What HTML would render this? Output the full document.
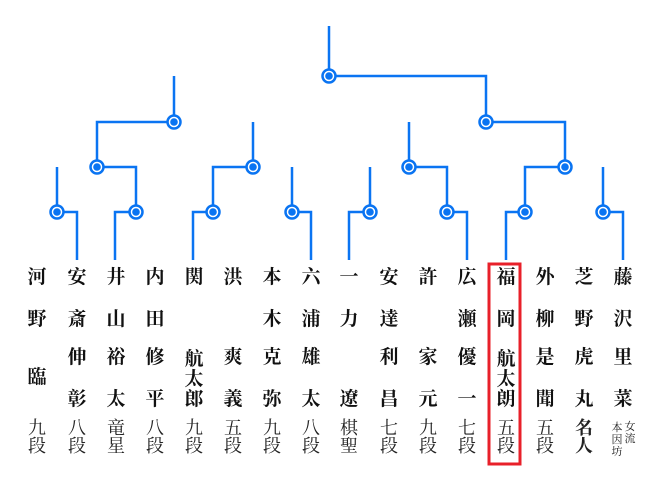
<!DOCTYPE html>
<html><head><meta charset="utf-8"><style>
html,body{margin:0;padding:0;background:#fff;}
#w{position:relative;width:660px;height:480px;overflow:hidden;font-family:"Liberation Serif","Noto Serif CJK SC",serif;}
.c{position:absolute;width:24px;margin-left:-12px;text-align:center;font-size:19px;line-height:22px;height:22px;margin-top:-11px;font-weight:bold;color:#111;}
.r{position:absolute;width:24px;margin-left:-12px;text-align:center;font-size:18px;line-height:20px;margin-top:-10px;color:#222;}
.s{position:absolute;font-size:11px;line-height:12px;width:12px;text-align:center;color:#222;}
svg{position:absolute;left:0;top:0;}
</style></head><body><div id="w">
<svg width="660" height="480">
<g fill="none" stroke="#0a74f2" stroke-width="2.5">
<path d="M329 26V76H486V122H565V167H525V212H506V260"/>
<path d="M174 76V122H97V167H136V212H115V260"/>
<path d="M57 167V212H77V260"/>
<path d="M253 122V167H213V212H193V260"/>
<path d="M292 167V212H311V260"/>
<path d="M370 167V212H349V260"/>
<path d="M409 122V167H447V212H467V260"/>
<path d="M603 167V212H623V260"/>
</g>
<g fill="#fff" stroke="#0a74f2" stroke-width="2.5">
<circle cx="329" cy="76" r="6.5"/><circle cx="174" cy="122" r="6.5"/><circle cx="486" cy="122" r="6.5"/>
<circle cx="97" cy="167" r="6.5"/><circle cx="253" cy="167" r="6.5"/><circle cx="409" cy="167" r="6.5"/><circle cx="565" cy="167" r="6.5"/>
<circle cx="57" cy="212" r="6.5"/><circle cx="136" cy="212" r="6.5"/><circle cx="213" cy="212" r="6.5"/><circle cx="292" cy="212" r="6.5"/>
<circle cx="370" cy="212" r="6.5"/><circle cx="447" cy="212" r="6.5"/><circle cx="525" cy="212" r="6.5"/><circle cx="603" cy="212" r="6.5"/>
</g>
<g fill="#0a74f2">
<circle cx="329" cy="76" r="3.8"/><circle cx="174" cy="122" r="3.8"/><circle cx="486" cy="122" r="3.8"/>
<circle cx="97" cy="167" r="3.8"/><circle cx="253" cy="167" r="3.8"/><circle cx="409" cy="167" r="3.8"/><circle cx="565" cy="167" r="3.8"/>
<circle cx="57" cy="212" r="3.8"/><circle cx="136" cy="212" r="3.8"/><circle cx="213" cy="212" r="3.8"/><circle cx="292" cy="212" r="3.8"/>
<circle cx="370" cy="212" r="3.8"/><circle cx="447" cy="212" r="3.8"/><circle cx="525" cy="212" r="3.8"/><circle cx="603" cy="212" r="3.8"/>
</g>
<rect x="489" y="264" width="31" height="200" fill="none" stroke="#e8202a" stroke-width="3"/>
</svg>

<span class="c" style="left:37px;top:278px">河</span><span class="c" style="left:37px;top:320px">野</span><span class="c" style="left:37px;top:378px">臨</span>
<span class="r" style="left:37px;top:428px">九</span><span class="r" style="left:37px;top:446px">段</span>

<span class="c" style="left:77px;top:278px">安</span><span class="c" style="left:77px;top:320px">斎</span><span class="c" style="left:77px;top:358px">伸</span><span class="c" style="left:77px;top:400px">彰</span>
<span class="r" style="left:77px;top:428px">八</span><span class="r" style="left:77px;top:446px">段</span>

<span class="c" style="left:116px;top:278px">井</span><span class="c" style="left:116px;top:320px">山</span><span class="c" style="left:116px;top:358px">裕</span><span class="c" style="left:116px;top:400px">太</span>
<span class="r" style="left:116px;top:428px">竜</span><span class="r" style="left:116px;top:446px">星</span>

<span class="c" style="left:155px;top:278px">内</span><span class="c" style="left:155px;top:320px">田</span><span class="c" style="left:155px;top:358px">修</span><span class="c" style="left:155px;top:400px">平</span>
<span class="r" style="left:155px;top:428px">八</span><span class="r" style="left:155px;top:446px">段</span>

<span class="c" style="left:194px;top:278px">関</span><span class="c" style="left:194px;top:360px">航</span><span class="c" style="left:194px;top:380px">太</span><span class="c" style="left:194px;top:400px">郎</span>
<span class="r" style="left:194px;top:428px">九</span><span class="r" style="left:194px;top:446px">段</span>

<span class="c" style="left:233px;top:278px">洪</span><span class="c" style="left:233px;top:358px">爽</span><span class="c" style="left:233px;top:400px">義</span>
<span class="r" style="left:233px;top:428px">五</span><span class="r" style="left:233px;top:446px">段</span>

<span class="c" style="left:272px;top:278px">本</span><span class="c" style="left:272px;top:320px">木</span><span class="c" style="left:272px;top:358px">克</span><span class="c" style="left:272px;top:400px">弥</span>
<span class="r" style="left:272px;top:428px">九</span><span class="r" style="left:272px;top:446px">段</span>

<span class="c" style="left:311px;top:278px">六</span><span class="c" style="left:311px;top:320px">浦</span><span class="c" style="left:311px;top:358px">雄</span><span class="c" style="left:311px;top:400px">太</span>
<span class="r" style="left:311px;top:428px">八</span><span class="r" style="left:311px;top:446px">段</span>

<span class="c" style="left:349px;top:278px">一</span><span class="c" style="left:349px;top:320px">力</span><span class="c" style="left:349px;top:400px">遼</span>
<span class="r" style="left:349px;top:428px">棋</span><span class="r" style="left:349px;top:446px">聖</span>

<span class="c" style="left:389px;top:278px">安</span><span class="c" style="left:389px;top:320px">達</span><span class="c" style="left:389px;top:358px">利</span><span class="c" style="left:389px;top:400px">昌</span>
<span class="r" style="left:389px;top:428px">七</span><span class="r" style="left:389px;top:446px">段</span>

<span class="c" style="left:428px;top:278px">許</span><span class="c" style="left:428px;top:358px">家</span><span class="c" style="left:428px;top:400px">元</span>
<span class="r" style="left:428px;top:428px">九</span><span class="r" style="left:428px;top:446px">段</span>

<span class="c" style="left:467px;top:278px">広</span><span class="c" style="left:467px;top:320px">瀬</span><span class="c" style="left:467px;top:358px">優</span><span class="c" style="left:467px;top:400px">一</span>
<span class="r" style="left:467px;top:428px">七</span><span class="r" style="left:467px;top:446px">段</span>

<span class="c" style="left:506px;top:278px">福</span><span class="c" style="left:506px;top:320px">岡</span><span class="c" style="left:506px;top:360px">航</span><span class="c" style="left:506px;top:380px">太</span><span class="c" style="left:506px;top:400px">朗</span>
<span class="r" style="left:506px;top:428px">五</span><span class="r" style="left:506px;top:446px">段</span>

<span class="c" style="left:545px;top:278px">外</span><span class="c" style="left:545px;top:320px">柳</span><span class="c" style="left:545px;top:358px">是</span><span class="c" style="left:545px;top:400px">聞</span>
<span class="r" style="left:545px;top:428px">五</span><span class="r" style="left:545px;top:446px">段</span>

<span class="c" style="left:584px;top:278px">芝</span><span class="c" style="left:584px;top:320px">野</span><span class="c" style="left:584px;top:358px">虎</span><span class="c" style="left:584px;top:400px">丸</span>
<span class="r" style="left:584px;top:428px;font-weight:bold">名</span><span class="r" style="left:584px;top:446px;font-weight:bold">人</span>

<span class="c" style="left:623px;top:278px">藤</span><span class="c" style="left:623px;top:320px">沢</span><span class="c" style="left:623px;top:358px">里</span><span class="c" style="left:623px;top:400px">菜</span>
<span class="s" style="left:624px;top:421px">女<br>流</span>
<span class="s" style="left:611px;top:422px">本<br>因<br>坊</span>
</div></body></html>
